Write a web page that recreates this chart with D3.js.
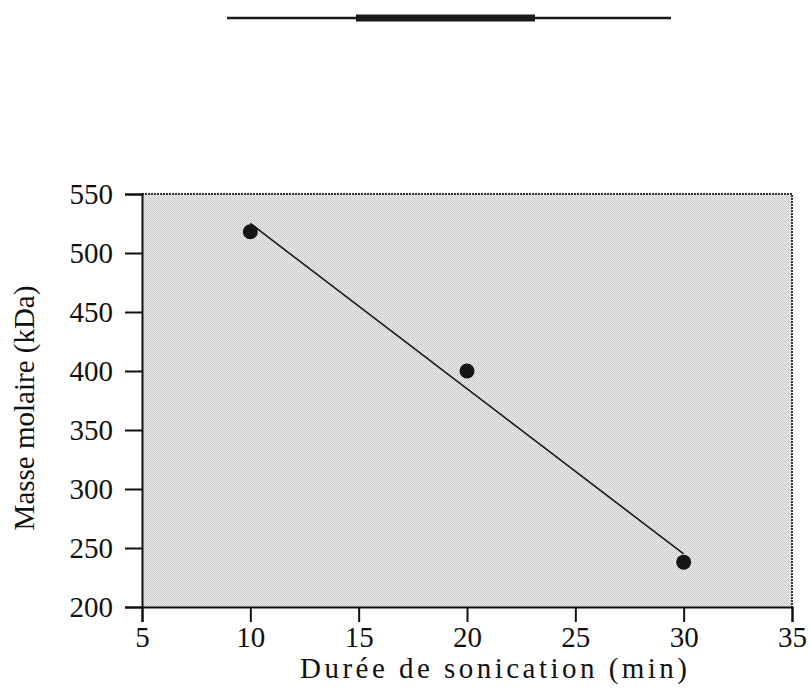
<!DOCTYPE html>
<html><head><meta charset="utf-8">
<script src="https://cdn.jsdelivr.net/npm/d3@7"></script>
<style>body{margin:0;background:#fff}svg{display:block}</style>
</head><body><svg id="c" width="810" height="693"></svg>
<script>
const durations = [10, 20, 30];
const masses = [518, 400, 238];
const fitX = [10, 30];
const fitY = [525, 245];
const xTicks = [5, 10, 15, 20, 25, 30, 35];
const yTicks = [200, 250, 300, 350, 400, 450, 500, 550];
const xLabel = "Durée de sonication (min)";
const yLabel = "Masse molaire (kDa)";

const svg = d3.select("#c");
const L = 142, R = 792, T = 194, B = 607;
const x = d3.scaleLinear().domain([5, 35]).range([L, R]);
const y = d3.scaleLinear().domain([200, 550]).range([B, T]);
const font = "'Liberation Serif','Times New Roman',serif";

// decorative top bar
svg.append("line").attr("x1", 227).attr("x2", 671).attr("y1", 18).attr("y2", 18)
  .attr("stroke", "#1a1a1a").attr("stroke-width", 2.5);
svg.append("line").attr("x1", 356).attr("x2", 535).attr("y1", 18).attr("y2", 18)
  .attr("stroke", "#1a1a1a").attr("stroke-width", 7);

// stipple pattern
const defs = svg.append("defs");
const pat = defs.append("pattern").attr("id", "stip").attr("width", 2).attr("height", 2)
  .attr("patternUnits", "userSpaceOnUse");
pat.append("rect").attr("width", 2).attr("height", 2).attr("fill", "#efefef");
pat.append("rect").attr("width", 1).attr("height", 1).attr("fill", "#c4c4c4");
pat.append("rect").attr("x", 1).attr("y", 1).attr("width", 1).attr("height", 1).attr("fill", "#cacaca");

svg.append("rect").attr("x", L).attr("y", T).attr("width", R - L).attr("height", B - T)
  .attr("fill", "url(#stip)");
// frame top/right
svg.append("path").attr("d", `M${L},${T}H${R}V${B}`).attr("fill", "none")
  .attr("stroke", "#333").attr("stroke-width", 2).attr("stroke-dasharray", "2,1");

// axes
const gx = svg.append("g").attr("transform", `translate(0,${B})`)
  .call(d3.axisBottom(x).tickValues(xTicks).tickSize(15).tickPadding(4).tickFormat(d3.format("d")));
const gy = svg.append("g").attr("transform", `translate(${L},0)`)
  .call(d3.axisLeft(y).tickValues(yTicks).tickSize(17).tickPadding(12).tickFormat(d3.format("d")));
[gx, gy].forEach(g => {
  g.attr("font-size", null).attr("font-family", null);
  g.select(".domain").attr("stroke", "#111").attr("stroke-width", 2);
  g.selectAll(".tick line").attr("stroke", "#111").attr("stroke-width", 2);
  g.selectAll(".tick text").attr("fill", "#111").style("font-family", font).style("font-size", "29px");
});
gy.selectAll(".tick text").attr("dy", "0.34em");

// fit line
svg.append("path").datum(fitX.map((d, i) => [d, fitY[i]]))
  .attr("d", d3.line().x(d => x(d[0])).y(d => y(d[1])))
  .attr("stroke", "#1a1a1a").attr("stroke-width", 1.6).attr("fill", "none");

// points
svg.selectAll("circle.pt").data(durations).enter().append("circle")
  .attr("class", "pt").attr("cx", d => x(d)).attr("cy", (d, i) => y(masses[i]))
  .attr("r", 7.5).attr("fill", "#151515");

// labels
svg.append("text").attr("x", 300).attr("y", 678)
  .attr("textLength", 387).attr("lengthAdjust", "spacing")
  .style("font-family", font).style("font-size", "29px").attr("fill", "#111").text(xLabel);
svg.append("text").attr("transform", `translate(34,408) rotate(-90)`)
  .attr("text-anchor", "middle").style("font-family", font).style("font-size", "29px")
  .attr("fill", "#111").text(yLabel);
</script></body></html>
